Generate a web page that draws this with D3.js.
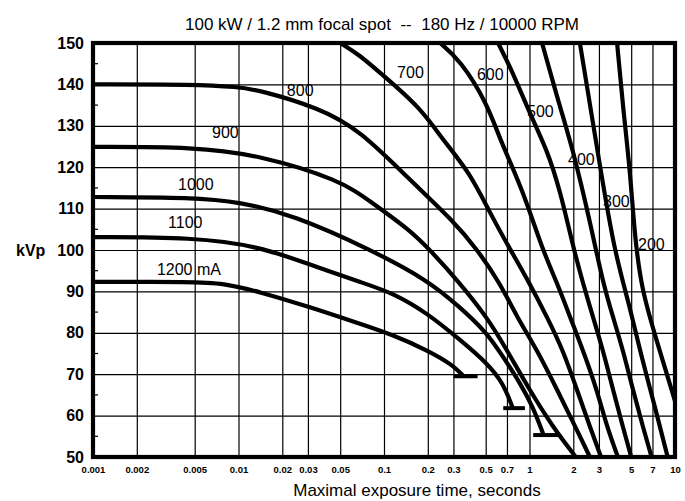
<!DOCTYPE html>
<html>
<head>
<meta charset="utf-8">
<script src="https://cdn.jsdelivr.net/npm/d3@7"></script>
<style>
  html, body { margin: 0; padding: 0; background: #fff; }
  svg { display: block; font-family: "Liberation Sans", Arial, Helvetica, sans-serif; }
</style>
</head>
<body>
<svg id="chart" width="685" height="501"></svg>
<script>
// Exposure-time rating curves, one per tube current (mA): [seconds, kVp]
const curve1200 = [[0.001,92.3],[0.0049,92.3],[0.0078,92.0],[0.014,89.9],[0.031,86.2],[0.068,82.2],[0.115,79.5],[0.198,75.8],[0.298,72.2],[0.35,69.6]];
const curve1100 = [[0.001,103.1],[0.0049,103.1],[0.014,100.8],[0.027,97.2],[0.075,91.8],[0.115,89.6],[0.198,84.8],[0.333,78.3],[0.511,72.7],[0.658,67.9],[0.76,62.2]];
const curve1000 = [[0.001,112.8],[0.0049,112.7],[0.0102,111.6],[0.0237,108.5],[0.082,100],[0.198,92.8],[0.333,86.2],[0.511,80],[0.658,74.2],[0.861,67.9],[1.057,62.1],[1.24,55.6]];
const curve900  = [[0.001,124.9],[0.005,124.9],[0.014,122.9],[0.05,116.9],[0.08,111.8],[0.151,104.8],[0.207,100],[0.318,92.8],[0.511,83.8],[0.70,75.8],[1.0,66.2],[1.45,57.2],[2.08,50]];
const curve800  = [[0.001,140],[0.005,140],[0.0098,139.4],[0.014,138.6],[0.036,134.3],[0.068,129],[0.151,116.9],[0.30,107],[0.44,100],[0.627,92],[0.82,83.8],[1.13,75.8],[1.55,66.2],[2.12,56.5],[2.6,50]];
const curve700  = [[0.05,150],[0.068,147.1],[0.094,142.8],[0.177,134.5],[0.254,126.6],[0.39,118.6],[0.536,108.9],[0.74,100],[1.0,92],[1.32,83.8],[1.70,75.8],[2.12,66.2],[2.61,57.2],[3.1,50]];
const curve600  = [[0.243,150],[0.333,145.9],[0.511,135.5],[0.627,126.6],[0.90,114.5],[1.22,100.3],[1.55,92],[1.90,83.8],[2.33,75.8],[2.91,66.2],[3.41,57.2],[4.05,50]];
const curve500  = [[0.608,150],[0.771,142.8],[1.0,133.1],[1.32,124.2],[1.62,114.5],[2.02,100],[2.33,92],[2.73,83.8],[3.2,75.8],[3.75,66.2],[4.39,57.2],[5.0,50]];
const curve400  = [[1.22,150],[1.62,134.5],[1.99,124.2],[2.6,107],[3.2,92],[3.75,83.8],[4.39,75.8],[5.14,66.2],[6.03,57.2],[6.9,50]];
const curve300  = [[2.22,150],[2.9,125],[3.8,100],[4.8,87.5],[5.8,75],[7.3,62],[8.9,50]];
const curve200  = [[4.0,150],[4.39,134.5],[4.91,119.3],[5.31,102.4],[5.93,90.3],[7.2,80],[10,63.5]];

// Curve names and where each name sits, [seconds, kVp] at the text's left baseline
const curveNames = ["1200 mA","1100","1000","900","800","700","600","500","400","300","200"];
const nameAnchors = [[0.00275,94.0],[0.00328,105.3],[0.00384,114.5],[0.00658,127.1],[0.0215,137.2],[0.123,141.5],[0.435,141.1],[0.962,132.1],[1.84,120.5],[3.2,110.4],[5.57,100]];

// Limit bars at the ends of the short curves: [from s, to s, kVp]
const limitBars = [[0.30,0.44,69.5],[0.66,0.93,61.8],[1.06,1.57,55.3]];

// Axis ticks
const xTickValues = [0.001,0.002,0.005,0.01,0.02,0.03,0.05,0.1,0.2,0.3,0.5,0.7,1,2,3,5,7,10];
const xTickLabels = ["0.001","0.002","0.005","0.01","0.02","0.03","0.05","0.1","0.2","0.3","0.5","0.7","1","2","3","5","7","10"];
const yTickValues = [50,60,70,80,90,100,110,120,130,140,150];
const yMinorTicks = [55,65,75,85,95,105,115,125,135,145];

const titleText = "100 kW / 1.2 mm focal spot  --  180 Hz / 10000 RPM";
const xTitle = "Maximal exposure time, seconds";
const yTitle = "kVp";

const curves = [curve1200, curve1100, curve1000, curve900, curve800, curve700,
                curve600, curve500, curve400, curve300, curve200];

const svg = d3.select("#chart");
const box = { left: 93, right: 675, top: 43, bottom: 457 };

const x = d3.scaleLog().domain([0.001, 10]).range([box.left, box.right]);
const y = d3.scaleLinear().domain([50, 150]).range([box.bottom, box.top]);

// Grid
const gx = svg.append("g")
  .attr("transform", `translate(0,${box.bottom})`)
  .call(d3.axisBottom(x).tickValues(xTickValues.slice(1, -1))
    .tickSize(-(box.bottom - box.top)).tickFormat(""));
gx.select(".domain").remove();
gx.selectAll("line").attr("stroke", "#000").attr("stroke-width", 1.2);

const gy = svg.append("g")
  .attr("transform", `translate(${box.left},0)`)
  .call(d3.axisLeft(y).tickValues(yTickValues.slice(1, -1))
    .tickSize(-(box.right - box.left)).tickFormat(""));
gy.select(".domain").remove();
gy.selectAll("line").attr("stroke", "#000").attr("stroke-width", 1.2);

// Short inner ticks on the kVp axis
svg.append("g").selectAll("line").data(yMinorTicks).join("line")
  .attr("x1", box.left).attr("x2", box.left + 5)
  .attr("y1", d => y(d)).attr("y2", d => y(d))
  .attr("stroke", "#000").attr("stroke-width", 1.2);

// Curves
svg.append("clipPath").attr("id", "plotClip")
  .append("rect")
  .attr("x", box.left - 4).attr("y", box.top)
  .attr("width", box.right - box.left + 6).attr("height", box.bottom - box.top);

const line = d3.line()
  .x(d => x(d[0])).y(d => y(d[1]))
  .curve(d3.curveBasis);

svg.append("g").attr("clip-path", "url(#plotClip)")
  .selectAll("path").data(curves).join("path")
  .attr("d", line)
  .attr("fill", "none")
  .attr("stroke", "#000")
  .attr("stroke-width", 4.2)
  .attr("stroke-linecap", "round")
  .attr("stroke-linejoin", "round");

svg.append("g").selectAll("line").data(limitBars).join("line")
  .attr("x1", d => x(d[0])).attr("x2", d => x(d[1]))
  .attr("y1", d => y(d[2])).attr("y2", d => y(d[2]))
  .attr("stroke", "#000").attr("stroke-width", 4);

// Curve names
svg.append("g").selectAll("text").data(curveNames).join("text")
  .attr("x", (d, i) => x(nameAnchors[i][0]))
  .attr("y", (d, i) => y(nameAnchors[i][1]))
  .attr("font-size", 16)
  .attr("fill", "#000")
  .text(d => d);

// Frame
svg.append("rect")
  .attr("x", box.left).attr("y", box.top)
  .attr("width", box.right - box.left).attr("height", box.bottom - box.top)
  .attr("fill", "none").attr("stroke", "#000").attr("stroke-width", 4.2);

// Tick labels
const ax = svg.append("g")
  .attr("transform", `translate(0,${box.bottom})`)
  .call(d3.axisBottom(x).tickValues(xTickValues)
    .tickSize(0).tickPadding(9)
    .tickFormat((d, i) => xTickLabels[i]));
ax.select(".domain").remove();
ax.selectAll("text")
  .attr("font-size", 9.5).attr("font-weight", "bold")
  .attr("font-family", "'Liberation Sans', Arial, sans-serif")
  .attr("fill", "#000");

const ay = svg.append("g")
  .attr("transform", `translate(${box.left},0)`)
  .call(d3.axisLeft(y).tickValues(yTickValues).tickSize(0).tickPadding(9));
ay.select(".domain").remove();
ay.selectAll("text")
  .attr("font-size", 16).attr("font-weight", "bold")
  .attr("font-family", "'Liberation Sans', Arial, sans-serif")
  .attr("fill", "#000");

// Titles
svg.append("text")
  .attr("x", 382).attr("y", 30)
  .attr("text-anchor", "middle")
  .attr("font-size", 17)
  .style("white-space", "pre")
  .text(titleText);

svg.append("text")
  .attr("x", 417).attr("y", 496)
  .attr("text-anchor", "middle")
  .attr("font-size", 17)
  .text(xTitle);

svg.append("text")
  .attr("x", 16).attr("y", y(100) + 6)
  .attr("font-size", 16).attr("font-weight", "bold")
  .text(yTitle);
</script>
</body>
</html>
